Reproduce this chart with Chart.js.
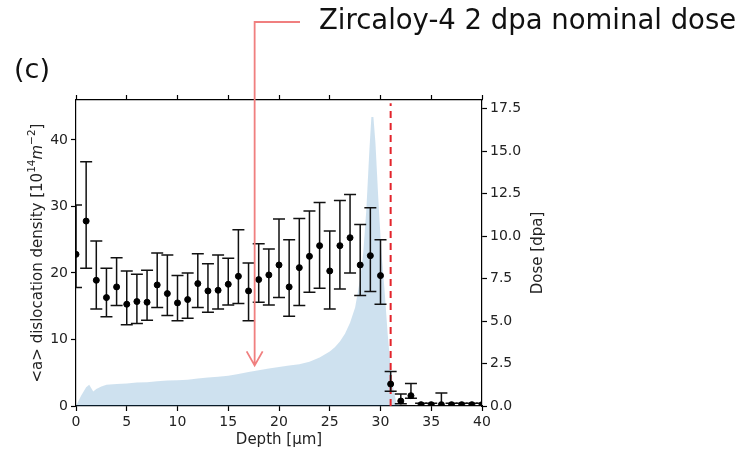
<!DOCTYPE html>
<html lang="en">
<head>
<meta charset="UTF-8">
<title>Dislocation density vs depth</title>
<script src="https://cdn.jsdelivr.net/npm/chart.js"></script>
<style>
  body { margin: 0; background: #fff; }
  #chart { display: block; }
</style>
</head>
<body>
<canvas id="chart" width="738" height="454"></canvas>
<script>
// <a> dislocation density, measured points with error bounds (10^14 m^-2)
const depth = [0, 1, 2, 3, 4, 5, 6, 7, 8, 9, 10, 11, 12, 13, 14, 15, 16, 17, 18, 19, 20,
               21, 22, 23, 24, 25, 26, 27, 28, 29, 30, 31, 32, 33, 34, 35, 36, 37, 38, 39, 40];
const density = [22.8, 27.8, 18.9, 16.3, 17.9, 15.3, 15.7, 15.6, 18.2, 16.9, 15.5, 16.0, 18.4, 17.3, 17.4,
                 18.3, 19.5, 17.3, 19.0, 19.7, 21.2, 17.9, 20.8, 22.5, 24.1, 20.3, 24.1, 25.3, 21.2, 22.6,
                 19.6, 3.3, 0.75, 1.55, 0.2, 0.2, 0.2, 0.2, 0.2, 0.2, 0.2];
const densityLow = [17.8, 20.7, 14.6, 13.4, 15.1, 12.2, 12.4, 12.9, 14.8, 13.6, 12.8, 13.2, 14.8, 14.1, 14.6,
                    15.2, 15.4, 12.8, 15.6, 15.2, 16.3, 13.5, 15.1, 17.1, 17.7, 14.6, 17.6, 20.0, 16.6, 17.2,
                    15.3, 2.2, 0.35, 1.15, 0.05, 0.05, 0.0, 0.05, 0.05, 0.05, 0.05];
const densityHigh = [30.2, 36.7, 24.8, 20.7, 22.3, 20.3, 19.8, 20.4, 23.0, 22.7, 19.6, 20.0, 22.9, 21.4, 22.7,
                     22.2, 26.5, 21.5, 24.4, 23.6, 28.1, 25.0, 28.2, 29.3, 30.6, 26.3, 30.9, 31.8, 27.3, 29.8,
                     25.0, 5.2, 1.8, 3.4, 0.4, 0.4, 1.95, 0.4, 0.4, 0.4, 0.4];

// dose profile (dpa)
const doseDepth = [0, 0.5, 1, 1.3, 1.7, 2, 2.5, 3, 4, 5, 6, 7, 8, 9, 10, 11, 12, 13, 14, 15, 16, 17, 18, 19, 20,
                   21, 22, 23, 24, 25, 25.5, 26, 26.5, 27, 27.5, 28, 28.3, 28.6, 28.9, 29.1, 29.3, 29.5, 29.8,
                   30.1, 30.4, 30.7, 31.0, 31.3, 31.6, 32, 40];
const dose = [0, 0.6, 1.1, 1.25, 0.85, 1.0, 1.15, 1.25, 1.3, 1.33, 1.38, 1.4, 1.45, 1.5, 1.52, 1.55, 1.62, 1.68,
              1.72, 1.78, 1.88, 2.0, 2.1, 2.2, 2.3, 2.38, 2.45, 2.6, 2.85, 3.2, 3.45, 3.8, 4.25, 4.9, 5.8, 7.5,
              9.0, 11.5, 15.0, 17.0, 17.0, 15.5, 12.0, 9.0, 6.8, 4.3, 2.3, 0.9, 0.1, 0, 0];

const nominalDepth = 31;
const xTicks = [0, 5, 10, 15, 20, 25, 30, 35, 40];

const FONT = '"DejaVu Sans", Verdana, sans-serif';
const tickFont = { family: FONT, size: 14 };

// error bars drawn through the scales
const errorBars = {
  id: 'errorBars',
  afterDatasetDraw(chart, args) {
    if (args.index !== 1) return;
    const ctx = chart.ctx, xs = chart.scales.x, ys = chart.scales.y, a = chart.chartArea;
    ctx.save();
    ctx.beginPath();
    ctx.rect(a.left, a.top, a.right - a.left, a.bottom - a.top);
    ctx.clip();
    ctx.strokeStyle = '#111';
    ctx.lineWidth = 1.5;
    for (let i = 0; i < depth.length; i++) {
      const px = xs.getPixelForValue(depth[i]);
      const lo = ys.getPixelForValue(densityLow[i]);
      const hi = ys.getPixelForValue(densityHigh[i]);
      ctx.beginPath();
      ctx.moveTo(px, lo); ctx.lineTo(px, hi);
      ctx.moveTo(px - 6, lo); ctx.lineTo(px + 6, lo);
      ctx.moveTo(px - 6, hi); ctx.lineTo(px + 6, hi);
      ctx.stroke();
    }
    ctx.restore();
  }
};

// axis titles and the annotation
const labels = {
  id: 'labels',
  afterDraw(chart) {
    const ctx = chart.ctx, a = chart.chartArea, ys = chart.scales.y;
    ctx.save();
    ctx.fillStyle = '#222';

    // bottom title
    ctx.font = '15px ' + FONT;
    ctx.textAlign = 'center';
    ctx.textBaseline = 'middle';
    ctx.fillText('Depth [\u03bcm]', (a.left + a.right) / 2, 440);

    // right title
    ctx.save();
    ctx.translate(538, (a.top + a.bottom) / 2);
    ctx.rotate(-Math.PI / 2);
    ctx.fillText('Dose [dpa]', 0, 0);
    ctx.restore();

    // left title with super scripts
    const parts = [
      { t: '<a> dislocation density [10', f: '15px ' + FONT, dy: 0 },
      { t: '14', f: '10.5px ' + FONT, dy: -6 },
      { t: 'm', f: 'italic 15px ' + FONT, dy: 0 },
      { t: '\u22122', f: '10.5px ' + FONT, dy: -6 },
      { t: ']', f: '15px ' + FONT, dy: 0 }
    ];
    let total = 0;
    parts.forEach(p => { ctx.font = p.f; p.w = ctx.measureText(p.t).width; total += p.w; });
    ctx.save();
    ctx.translate(38, (a.top + a.bottom) / 2);
    ctx.rotate(-Math.PI / 2);
    ctx.textAlign = 'left';
    let cx = -total / 2;
    parts.forEach(p => { ctx.font = p.f; ctx.fillText(p.t, cx, p.dy); cx += p.w; });
    ctx.restore();

    // panel letter
    ctx.fillStyle = '#111';
    ctx.textAlign = 'left';
    ctx.textBaseline = 'alphabetic';
    ctx.font = '27px ' + FONT;
    ctx.fillText('(c)', 14, 78);

    // annotation text fitted to its width
    const note = 'Zircaloy-4 2 dpa nominal dose';
    ctx.font = '27px ' + FONT;
    const s = 417 / ctx.measureText(note).width;
    ctx.font = (27 * s).toFixed(1) + 'px ' + FONT;
    ctx.fillText(note, 319, 29);

    // arrow pointing at the nominal dose depth
    const ax = chart.scales.x.getPixelForValue(17.6);
    const tip = ys.getPixelForValue(6.1);
    ctx.strokeStyle = '#f07f7f';
    ctx.lineWidth = 1.8;
    ctx.beginPath();
    ctx.moveTo(300, 22);
    ctx.lineTo(ax, 22);
    ctx.lineTo(ax, tip);
    ctx.moveTo(ax - 8, tip - 14);
    ctx.lineTo(ax, tip);
    ctx.lineTo(ax + 8, tip - 14);
    ctx.stroke();
    ctx.restore();
  }
};

const edgeAxis = {
  grid: { drawOnChartArea: false, color: '#000', tickLength: 5, tickWidth: 1.2 },
  border: { display: true, color: '#000', width: 1.2 }
};

new Chart(document.getElementById('chart'), {
  data: {
    datasets: [
      {
        type: 'scatter',
        data: depth.map((d, i) => ({ x: d, y: density[i] })),
        yAxisID: 'y',
        backgroundColor: '#000',
        borderColor: '#000',
        pointRadius: 3,
        pointHoverRadius: 3
      },
      {
        type: 'line',
        data: [{ x: nominalDepth, y: 0 }, { x: nominalDepth, y: 45.5 }],
        yAxisID: 'y',
        borderColor: '#e3242b',
        borderWidth: 2,
        borderDash: [7, 5],
        pointRadius: 0,
        fill: false
      },
      {
        type: 'line',
        data: doseDepth.map((d, i) => ({ x: d, y: dose[i] })),
        yAxisID: 'y1',
        borderWidth: 0,
        borderColor: 'rgba(0,0,0,0)',
        backgroundColor: 'rgba(31,119,180,0.22)',
        pointRadius: 0,
        tension: 0,
        fill: 'origin'
      }
    ]
  },
  options: {
    responsive: false,
    animation: false,
    devicePixelRatio: 1,
    layout: { padding: { left: 0, right: 196, top: 94, bottom: 0 } },
    plugins: { legend: { display: false }, tooltip: { enabled: false } },
    scales: {
      x: {
        type: 'linear', position: 'bottom', min: 0, max: 40,
        afterBuildTicks: s => { s.ticks = xTicks.map(v => ({ value: v })); },
        afterFit: s => { s.height = 48; },
        ticks: { font: tickFont, color: '#222', padding: 3, maxRotation: 0 },
        ...edgeAxis
      },
      x2: {
        type: 'linear', position: 'top', min: 0, max: 40,
        afterBuildTicks: s => { s.ticks = xTicks.map(v => ({ value: v })); },
        afterFit: s => { s.height = 6; },
        ticks: { display: false },
        ...edgeAxis
      },
      y: {
        type: 'linear', position: 'left', min: 0, max: 46,
        afterBuildTicks: s => { s.ticks = [0, 10, 20, 30, 40].map(v => ({ value: v })); },
        afterFit: s => { s.width = 76; },
        ticks: { font: tickFont, color: '#222', padding: 3 },
        ...edgeAxis
      },
      y1: {
        type: 'linear', position: 'right', min: 0, max: 18,
        afterBuildTicks: s => { s.ticks = [0, 2.5, 5, 7.5, 10, 12.5, 15, 17.5].map(v => ({ value: v })); },
        afterFit: s => { s.width = 60; },
        ticks: { font: tickFont, color: '#222', padding: 3, callback: v => v.toFixed(1) },
        ...edgeAxis
      }
    }
  },
  plugins: [errorBars, labels]
});
</script>
</body>
</html>
